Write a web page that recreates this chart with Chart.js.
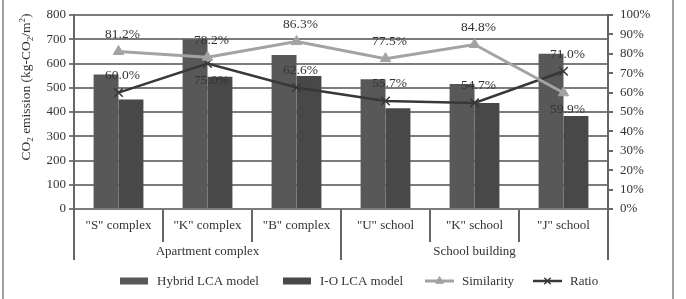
<!DOCTYPE html>
<html>
<head>
<meta charset="utf-8">
<script src="https://cdn.jsdelivr.net/npm/chart.js@4"></script>
<style>
  html, body { margin: 0; padding: 0; background: #fff; }
  #wrap { width: 686px; height: 299px; position: relative; }
</style>
</head>
<body>
<div id="wrap"><canvas id="c" width="686" height="299"></canvas></div>
<script>
// ---- data ----
const categories = ['"S" complex', '"K" complex', '"B" complex', '"U" school', '"K" school', '"J" school'];
const groups = ['Apartment complex', 'School building'];
const groupSizes = [3, 3];
const hybridLCA = [555, 700, 635, 535, 515, 640];
const ioLCA = [452, 545, 548, 415, 437, 383];
const similarity = [81.2, 78.2, 86.3, 77.5, 84.8, 59.9];
const ratio = [60.0, 75.0, 62.6, 55.7, 54.7, 71.0];
const leftTicks = [0, 100, 200, 300, 400, 500, 600, 700, 800];
const rightTicks = [0, 10, 20, 30, 40, 50, 60, 70, 80, 90, 100];

const FONT = '"Liberation Serif", "Times New Roman", serif';
const TXT = '#333';
const GRID = '#7c7c7c';

const labelPlacement = {
  Similarity: ['above', 'above', 'above', 'above', 'above', 'below'],
  Ratio: ['above', 'below', 'above', 'above', 'above', 'above']
};

const extrasPlugin = {
  id: 'extras',
  afterDatasetsDraw(chart) {
    const ctx = chart.ctx;
    ctx.save();
    ctx.font = '13.5px ' + FONT;
    ctx.fillStyle = TXT;
    ctx.textAlign = 'center';
    ctx.textBaseline = 'middle';
    chart.data.datasets.forEach((ds, di) => {
      if (ds.type !== 'line') return;
      const meta = chart.getDatasetMeta(di);
      const place = labelPlacement[ds.label];
      meta.data.forEach((pt, i) => {
        const dy = place[i] === 'below' ? 17 : -17;
        ctx.fillText(ds.data[i].toFixed(1) + '%', pt.x + 4, pt.y + dy);
      });
    });
    ctx.restore();
  },
  afterDraw(chart) {
    const ctx = chart.ctx;
    const ca = chart.chartArea;
    ctx.save();
    // outer frame side lines
    ctx.strokeStyle = '#a0a0a0';
    ctx.lineWidth = 2;
    ctx.beginPath();
    ctx.moveTo(3, 0); ctx.lineTo(3, 299);
    ctx.moveTo(673, 0); ctx.lineTo(673, 299);
    ctx.stroke();

    // group separators (long)
    const n = categories.length;
    const step = (ca.right - ca.left) / n;
    ctx.strokeStyle = '#666';
    ctx.lineWidth = 2;
    let idx = 0;
    const bounds = [0];
    groupSizes.forEach(s => { idx += s; bounds.push(idx); });
    ctx.beginPath();
    bounds.forEach(b => {
      const x = ca.left + b * step;
      ctx.moveTo(x, ca.bottom); ctx.lineTo(x, ca.bottom + 51);
    });
    ctx.stroke();

    // group labels
    ctx.font = '13px ' + FONT;
    ctx.fillStyle = TXT;
    ctx.textAlign = 'center';
    ctx.textBaseline = 'middle';
    for (let g = 0; g < groups.length; g++) {
      const x0 = ca.left + bounds[g] * step, x1 = ca.left + bounds[g + 1] * step;
      ctx.fillText(groups[g], (x0 + x1) / 2, ca.bottom + 43);
    }

    // y-axis title with sub/superscripts
    const parts = [
      ['CO', 0, 13.5], ['2', 3, 9], [' emission (kg-CO', 0, 13.5], ['2', 3, 9], ['/m', 0, 13.5], ['2', -5, 9], [')', 0, 13.5]
    ];
    let total = 0;
    parts.forEach(p => { ctx.font = p[2] + 'px ' + FONT; total += ctx.measureText(p[0]).width; });
    ctx.translate(30, 87);
    ctx.rotate(-Math.PI / 2);
    ctx.textAlign = 'left';
    ctx.textBaseline = 'alphabetic';
    let cx = -total / 2;
    parts.forEach(p => {
      ctx.font = p[2] + 'px ' + FONT;
      ctx.fillText(p[0], cx, p[1]);
      cx += ctx.measureText(p[0]).width;
    });
    ctx.setTransform(1, 0, 0, 1, 0, 0);

    // legend
    const ly = 281;
    const starts = [120, 283, 425, 533];
    ctx.font = '13px ' + FONT;
    ctx.textBaseline = 'middle';
    ctx.textAlign = 'left';
    chart.data.datasets.forEach((ds, i) => {
      const x = starts[i];
      if (ds.type === 'bar') {
        ctx.fillStyle = ds.backgroundColor;
        ctx.fillRect(x, ly - 3.5, 28, 7);
      } else {
        ctx.strokeStyle = ds.borderColor;
        ctx.fillStyle = ds.pointBackgroundColor;
        ctx.lineWidth = ds.borderWidth;
        ctx.beginPath(); ctx.moveTo(x, ly); ctx.lineTo(x + 29, ly); ctx.stroke();
        ctx.lineWidth = ds.pointBorderWidth || 2;
        Chart.helpers.drawPoint(ctx, {
          pointStyle: ds.pointStyle, radius: ds.pointRadius - 1.5, rotation: 0,
          borderWidth: ds.pointBorderWidth || 2
        }, x + 14.5, ly);
      }
      ctx.fillStyle = TXT;
      ctx.fillText(ds.label, x + 37, ly + 1);
    });
    ctx.restore();
  }
};

new Chart(document.getElementById('c'), {
  data: {
    labels: categories,
    datasets: [
      { type: 'bar', label: 'Hybrid LCA model', data: hybridLCA, yAxisID: 'y',
        backgroundColor: '#585858', order: 2, categoryPercentage: 0.56, barPercentage: 1.0 },
      { type: 'bar', label: 'I-O LCA model', data: ioLCA, yAxisID: 'y',
        backgroundColor: '#484848', order: 2, categoryPercentage: 0.56, barPercentage: 1.0 },
      { type: 'line', label: 'Similarity', data: similarity, yAxisID: 'y1',
        borderColor: '#a3a3a3', backgroundColor: '#a3a3a3', pointBackgroundColor: '#a3a3a3',
        pointBorderColor: '#a3a3a3', borderWidth: 3, pointStyle: 'triangle', pointRadius: 6,
        pointBorderWidth: 1, tension: 0, order: 1 },
      { type: 'line', label: 'Ratio', data: ratio, yAxisID: 'y1',
        borderColor: '#383838', backgroundColor: '#383838', pointBackgroundColor: '#383838',
        pointBorderColor: '#383838', borderWidth: 2.5, pointStyle: 'crossRot', pointRadius: 6,
        pointBorderWidth: 1.5, tension: 0, order: 1 }
    ]
  },
  options: {
    responsive: false,
    animation: false,
    layout: { padding: { top: 15, left: 0, right: 0, bottom: 0 } },
    plugins: { legend: { display: false }, tooltip: { enabled: false } },
    scales: {
      x: {
        type: 'category',
        offset: true,
        grid: { offset: true, drawOnChartArea: false, color: '#666', lineWidth: 2, tickLength: 33 },
        border: { display: true, color: GRID, width: 2 },
        ticks: { color: TXT, font: { family: FONT, size: 13 }, padding: -24, maxRotation: 0, autoSkip: false },
        afterFit(s) { s.height = 90; }
      },
      y: {
        position: 'left',
        min: 0, max: 800,
        afterBuildTicks(s) { s.ticks = leftTicks.map(v => ({ value: v })); },
        grid: { color: GRID, lineWidth: 2, tickLength: 5 },
        border: { display: true, color: '#666', width: 2 },
        ticks: { color: TXT, font: { family: FONT, size: 13 }, padding: 3 },
        afterFit(s) { s.width = 74; }
      },
      y1: {
        position: 'right',
        min: 0, max: 100,
        afterBuildTicks(s) { s.ticks = rightTicks.map(v => ({ value: v })); },
        grid: { drawOnChartArea: false, color: '#666', lineWidth: 2, tickLength: 5 },
        border: { display: true, color: '#666', width: 2 },
        ticks: { color: TXT, font: { family: FONT, size: 13 }, padding: 7, callback: v => v + '%' },
        afterFit(s) { s.width = 78; }
      }
    }
  },
  plugins: [extrasPlugin]
});
</script>
</body>
</html>
